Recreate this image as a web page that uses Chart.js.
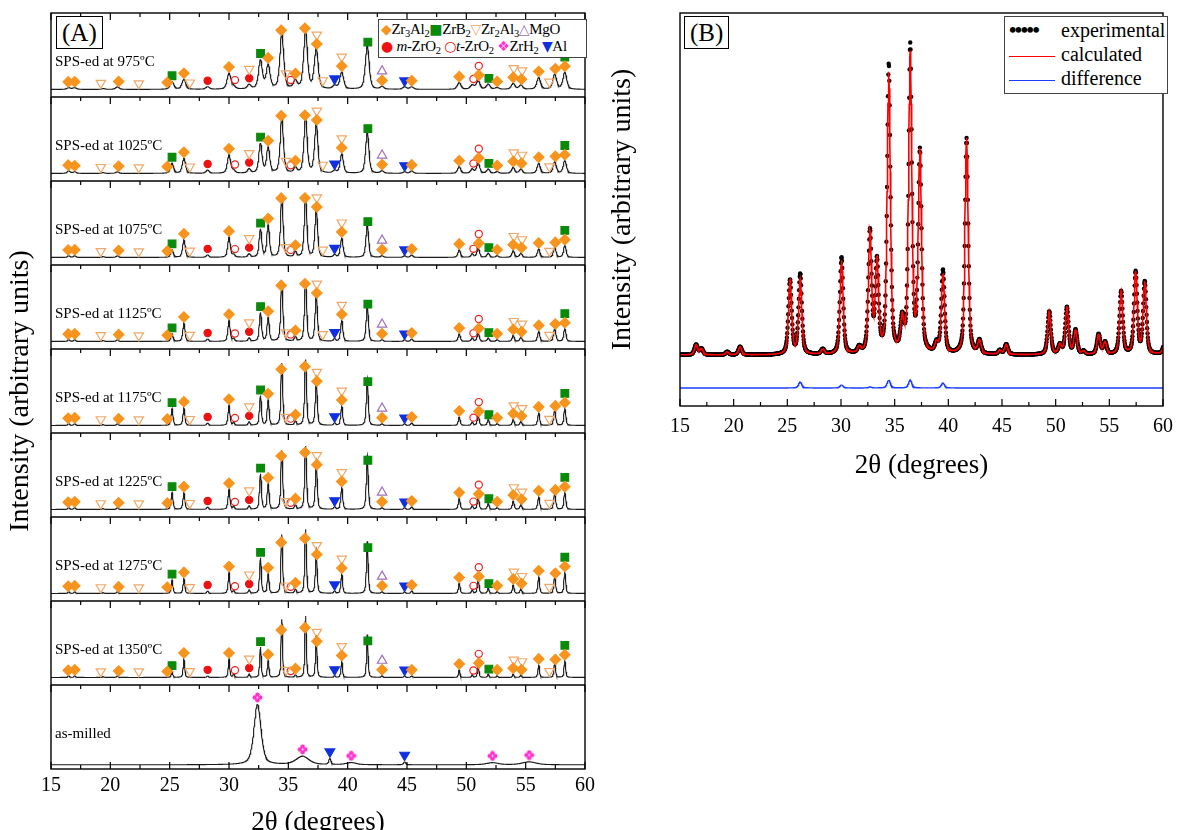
<!DOCTYPE html>
<html>
<head>
<meta charset="utf-8">
<title>XRD patterns</title>
<script src="https://cdn.jsdelivr.net/npm/chart.js@4.4.1/dist/chart.umd.min.js"></script>
<style>
  body { margin: 0; background: #fff; font-family: 'Liberation Serif', 'Times New Roman', serif; }
  #wrap { position: relative; width: 1182px; height: 830px; overflow: hidden; }
  #chartA { position: absolute; left: 0; top: 0; }
  #chartB { position: absolute; left: 600px; top: 0; }
  .tag { position: absolute; border: 1.5px solid #000; background: #fff; font-size: 25px; line-height: 31px; padding: 0 5px; }
  .leg { position: absolute; background: #fff; border: 1px solid #444; color: #000; }
  .leg sub { font-size: 70%; line-height: 0; vertical-align: -3px; }
  #legA { left: 378px; top: 19px; width: 205px; padding: 1px 0 2px 2px; font-size: 15px; line-height: 17px; white-space: nowrap; letter-spacing: -0.3px; }
  #legB { left: 1004px; top: 16px; width: 158px; padding: 1px 0 3px 4px; font-size: 20px; line-height: 24px; white-space: nowrap; }
  .sym { font-family: 'DejaVu Sans', sans-serif; font-size: 14px; }
  .ln { display: inline-block; width: 46px; height: 0; border-top: 1.5px solid; vertical-align: middle; margin-right: 6px; }
  .dots { display: inline-block; width: 46px; margin-right: 6px; font-weight: bold; font-size: 21px; letter-spacing: -1.5px; line-height: 20px; }
</style>
</head>
<body>
<div id="wrap">
  <canvas id="chartA" width="600" height="830"></canvas>
  <canvas id="chartB" width="582" height="480"></canvas>
  <div class="tag" style="left:56px; top:16px;">(A)</div>
  <div class="tag" style="left:684px; top:16px;">(B)</div>
  <div id="legA" class="leg">
    <div><span class="sym" style="color:#f7941d">◆</span>Zr<sub>3</sub>Al<sub>2</sub><span class="sym" style="color:#0a8a0a">■</span>ZrB<sub>2</sub><span class="sym" style="color:#f0a868">▽</span>Zr<sub>2</sub>Al<sub>3</sub><span class="sym" style="color:#a070b8">△</span>MgO</div>
    <div><span class="sym" style="color:#ee1111">●</span>&nbsp;<i>m</i>-ZrO<sub>2</sub> <span class="sym" style="color:#ee1111">○</span><i>t</i>-ZrO<sub>2</sub> <span class="sym" style="color:#ff33cc">❖</span>ZrH<sub>2</sub> <span class="sym" style="color:#1030e0">▼</span>Al</div>
  </div>
  <div id="legB" class="leg">
    <div><span class="dots">•••••</span>experimental</div>
    <div><span class="ln" style="border-color:#ff0000"></span>calculated</div>
    <div><span class="ln" style="border-color:#1a3cff"></span>difference</div>
  </div>
</div>
<script>
// ---- Panel (A): stacked XRD patterns ----
const sampleNames = ['SPS-ed at 975ºC', 'SPS-ed at 1025ºC', 'SPS-ed at 1075ºC', 'SPS-ed at 1125ºC',
                     'SPS-ed at 1175ºC', 'SPS-ed at 1225ºC', 'SPS-ed at 1275ºC', 'SPS-ed at 1350ºC'];
const xTickLabels = [15, 20, 25, 30, 35, 40, 45, 50, 55, 60];

// peak positions (2θ) shared by all SPS-ed samples
const peakPos = [16.5, 17.0, 19.4, 20.6, 25.2, 26.2, 28.2, 30.0, 30.4, 31.7,
                 32.65, 33.3, 34.45, 35.6, 36.45, 37.35, 38.9, 39.5, 41.65, 42.9,
                 44.8, 45.4, 49.4, 50.5, 51.0, 51.85, 52.6, 53.95, 54.6, 56.1,
                 57.45, 58.3];
// peak heights per sample (fraction of one panel)
const h975  = [0.02,0.02,0.01,0.03,0.09,0.12,0.03,0.19,0.03,0.05,0.34,0.28,0.66,0.09,0.68,0.48,0.04,0.2,0.52,0.03,0.03,0.03,0.08,0.05,0.1,0.06,0.02,0.07,0.05,0.14,0.18,0.2];
const h1025 = [0.03,0.02,0.01,0.02,0.12,0.18,0.04,0.22,0.03,0.05,0.35,0.3,0.66,0.06,0.66,0.6,0.03,0.23,0.5,0.03,0.02,0.03,0.08,0.05,0.12,0.05,0.02,0.07,0.05,0.12,0.14,0.15];
const h1075 = [0.02,0.02,0.01,0.02,0.09,0.21,0.03,0.24,0.03,0.04,0.33,0.38,0.71,0.06,0.71,0.59,0.03,0.23,0.4,0.02,0.02,0.03,0.09,0.04,0.11,0.05,0.02,0.08,0.05,0.1,0.12,0.14];
const h1125 = [0.02,0.02,0.01,0.02,0.09,0.22,0.03,0.25,0.03,0.04,0.34,0.28,0.7,0.05,0.72,0.59,0.03,0.25,0.44,0.02,0.02,0.03,0.09,0.04,0.1,0.04,0.02,0.07,0.05,0.12,0.16,0.15];
const h1175 = [0.02,0.02,0.01,0.02,0.2,0.21,0.03,0.24,0.03,0.04,0.35,0.3,0.74,0.05,0.78,0.56,0.03,0.23,0.56,0.02,0.02,0.03,0.1,0.04,0.12,0.07,0.02,0.07,0.05,0.15,0.2,0.2];
const h1225 = [0.02,0.02,0.01,0.02,0.2,0.2,0.03,0.24,0.03,0.04,0.42,0.3,0.7,0.05,0.75,0.57,0.03,0.26,0.64,0.02,0.02,0.03,0.13,0.04,0.14,0.07,0.02,0.1,0.06,0.15,0.2,0.2];
const h1275 = [0.02,0.02,0.01,0.02,0.16,0.18,0.03,0.25,0.03,0.04,0.42,0.23,0.7,0.05,0.76,0.51,0.03,0.23,0.62,0.02,0.02,0.03,0.12,0.04,0.17,0.06,0.02,0.1,0.06,0.2,0.22,0.25];
const h1350 = [0.02,0.02,0.01,0.02,0.07,0.22,0.02,0.22,0.04,0.04,0.36,0.2,0.69,0.03,0.73,0.5,0.02,0.19,0.51,0.02,0.02,0.02,0.09,0.03,0.14,0.04,0.02,0.04,0.03,0.15,0.2,0.2];
const spsHeights = [h975, h1025, h1075, h1125, h1175, h1225, h1275, h1350];
const spsWidths  = [0.38, 0.32, 0.26, 0.22, 0.19, 0.19, 0.17, 0.15];   // FWHM, degrees

// as-milled powder
const millPos    = [32.4, 36.2, 38.5, 40.3, 44.8, 52.2, 55.3];
const millHeight = [0.72, 0.1, 0.07, 0.025, 0.035, 0.025, 0.035];
const millWidth  = [0.7, 1.3, 0.22, 1.0, 0.22, 1.2, 1.4];

const baseLevel = 0.09;

// phase markers: [2θ, phase, stack level]
const spsMarks = [
  [16.45,'Z',0],[17.0,'Z',0],[19.2,'T',0],[20.7,'Z',0],[22.4,'T',0],[24.8,'Z',0],[25.2,'B',0],
  [26.2,'Z',0],[26.7,'T',0],[28.2,'m',0],[30.0,'Z',0],[30.5,'t',0],[31.7,'m',0],[31.7,'T',1],
  [32.66,'B',0],[33.3,'Z',0],[34.4,'Z',0],[34.8,'T',0],[35.2,'t',0],[35.6,'Z',0],[36.4,'Z',0],
  [37.4,'Z',0],[37.4,'T',1],[38.9,'A',0],[39.5,'Z',0],[39.5,'T',1],[41.7,'B',0],[42.9,'Z',0],
  [42.9,'M',1],[44.8,'A',0],[45.4,'Z',0],[49.4,'Z',0],[50.6,'t',0],[51.05,'Z',0],[51.05,'t',1],
  [51.9,'B',0],[52.6,'Z',0],[53.95,'Z',0],[54.0,'T',1],[54.65,'Z',0],[54.7,'T',1],[56.1,'Z',0],
  [57.0,'T',0],[57.5,'Z',0],[58.3,'Z',0],[58.3,'B',1]
];
const earlyMarks = [[37.9,'T',0]];   // only on 975-1125 ºC
const millMarks = [[32.4,'H',0],[36.2,'H',0],[38.5,'A',0],[40.3,'H',0],[44.8,'A',0],[52.2,'H',0],[55.3,'H',0]];

// ---- Panel (B): Rietveld refinement ----
const refPos  = [16.5,17.0,19.4,20.6,25.25,26.2,28.3,30.05,31.7,32.7,33.35,34.45,35.7,36.45,37.35,38.9,
                 39.5,41.7,42.9,44.8,45.4,49.4,50.4,51.05,51.85,52.6,54.0,54.6,56.1,57.45,58.3,60.3];
const refCalc = [1.0,0.6,0.3,0.8,7.4,7.4,0.5,9.4,0.6,12.0,9.0,28.0,3.0,29.8,20.0,0.9,
                 7.8,21.6,1.3,0.4,1.0,4.3,0.9,4.7,2.4,0.3,2.0,1.2,6.3,8.2,7.2,3.6];
const refExp  = [1.0,0.6,0.3,0.8,7.4,8.0,0.5,9.7,0.6,12.1,9.0,28.8,3.0,30.6,20.0,0.9,
                 8.3,21.6,1.3,0.4,1.0,4.3,0.9,4.7,2.4,0.3,2.0,1.2,6.3,8.2,7.2,3.6];
const refWidth = 0.36;
const diffOffset = -3.3;

const serif = "'Liberation Serif', 'Times New Roman', serif";

// pseudo-Voigt peak
function pv(x, c, h, w) {
  const d = (x - c) / (w / 2);
  return h * (0.5 / (1 + d * d) + 0.5 * Math.exp(-Math.LN2 * d * d));
}
function profile(x, pos, hts, wid) {
  let s = 0;
  for (let i = 0; i < pos.length; i++) s += pv(x, pos[i], hts[i], Array.isArray(wid) ? wid[i] : wid);
  return s;
}
function grid(step) {
  const xs = [];
  for (let i = 0; 15 + i * step <= 60.0001; i++) xs.push(+(15 + i * step).toFixed(3));
  return xs;
}

// ZrH2 flower symbol
function flower(color) {
  const c = document.createElement('canvas');
  c.width = 11; c.height = 11;
  const g = c.getContext('2d');
  g.fillStyle = color;
  [[5.5,2.8],[2.8,5.5],[8.2,5.5],[5.5,8.2]].forEach(([cx, cy]) => {
    g.beginPath(); g.arc(cx, cy, 2.3, 0, Math.PI * 2); g.fill();
  });
  g.fillStyle = '#fff';
  g.beginPath(); g.arc(5.5, 5.5, 0.9, 0, Math.PI * 2); g.fill();
  return c;
}

const phaseStyle = {
  Z: { label: 'Zr3Al2', pointStyle: 'rectRot', radius: 5.2, bg: '#f7941d', border: '#f7941d', rot: 0 },
  B: { label: 'ZrB2', pointStyle: 'rect', radius: 5.4, bg: '#0a8a0a', border: '#0a8a0a', rot: 0 },
  T: { label: 'Zr2Al3', pointStyle: 'triangle', radius: 5.4, bg: 'rgba(255,255,255,0)', border: '#f0a868', rot: 180 },
  M: { label: 'MgO', pointStyle: 'triangle', radius: 5.4, bg: 'rgba(255,255,255,0)', border: '#a070b8', rot: 0 },
  m: { label: 'm-ZrO2', pointStyle: 'circle', radius: 3.6, bg: '#ee1111', border: '#ee1111', rot: 0 },
  t: { label: 't-ZrO2', pointStyle: 'circle', radius: 3.6, bg: 'rgba(255,255,255,0)', border: '#ee2222', rot: 0 },
  H: { label: 'ZrH2', pointStyle: flower('#ff33cc'), radius: 5, bg: '#ff33cc', border: '#ff33cc', rot: 0 },
  A: { label: 'Al', pointStyle: 'triangle', radius: 5.6, bg: '#1030e0', border: '#1030e0', rot: 180 }
};

// build panel (A) datasets
const xsA = grid(0.025);
const nPanels = sampleNames.length + 1;
const patternSets = [];
const markPoints = {};
Object.keys(phaseStyle).forEach(k => markPoints[k] = []);

function addMarks(list, offset, curve) {
  list.forEach(([x, ph, stack]) => {
    markPoints[ph].push({ x: x, y: offset + baseLevel + curve(x) + 0.07 + stack * 0.11 });
  });
}

sampleNames.forEach((name, i) => {
  const offset = nPanels - 1 - i;            // 975 on top
  const hts = spsHeights[i], w = spsWidths[i];
  const curve = x => profile(x, peakPos, hts, w);
  patternSets.push({
    label: name,
    data: xsA.map(x => ({ x: x, y: offset + baseLevel + curve(x) })),
    showLine: true, borderColor: '#1a1a1a', borderWidth: 1.1, pointRadius: 0, order: 20
  });
  addMarks(spsMarks, offset, curve);
  if (i < 4) addMarks(earlyMarks, offset, curve);
});
{
  const curve = x => profile(x, millPos, millHeight, millWidth);
  patternSets.push({
    label: 'as-milled',
    data: xsA.map(x => ({ x: x, y: 0.05 + curve(x) })),
    showLine: true, borderColor: '#1a1a1a', borderWidth: 1.1, pointRadius: 0, order: 20
  });
  millMarks.forEach(([x, ph, stack]) => {
    markPoints[ph].push({ x: x, y: 0.05 + curve(x) + 0.08 + stack * 0.11 });
  });
}

const markerSets = Object.keys(phaseStyle).map(k => {
  const s = phaseStyle[k];
  return {
    label: s.label, data: markPoints[k], showLine: false, clip: false,
    pointStyle: s.pointStyle, pointRadius: s.radius, pointRotation: s.rot,
    pointBackgroundColor: s.bg, pointBorderColor: s.border, pointBorderWidth: 1.2, order: 1
  };
});

// frame, panel separators, inward ticks and panel captions
const panelFrame = {
  id: 'panelFrame',
  afterDraw(chart, args, opts) {
    const { ctx, chartArea: a, scales: { x, y } } = chart;
    ctx.save();
    ctx.strokeStyle = '#000';
    ctx.lineWidth = 1.4;
    ctx.strokeRect(a.left, a.top, a.right - a.left, a.bottom - a.top);
    for (let i = 1; i < opts.panels; i++) {
      const py = y.getPixelForValue(y.min + i * (y.max - y.min) / opts.panels);
      ctx.beginPath(); ctx.moveTo(a.left, py); ctx.lineTo(a.right, py); ctx.stroke();
    }
    ctx.lineWidth = 1.2;
    for (let v = 15; v <= 60; v += 2.5) {
      const px = x.getPixelForValue(v);
      const len = v % 5 === 0 ? 7 : 4;
      ctx.beginPath(); ctx.moveTo(px, a.bottom); ctx.lineTo(px, a.bottom - len); ctx.stroke();
      if (opts.topTicks) {
        for (let i = 1; i <= opts.panels; i++) {
          const py = y.getPixelForValue(y.min + i * (y.max - y.min) / opts.panels);
          ctx.beginPath(); ctx.moveTo(px, py); ctx.lineTo(px, py + len); ctx.stroke();
        }
      }
    }
    if (opts.captions) {
      ctx.fillStyle = '#000';
      ctx.font = '15px ' + serif;
      ctx.textBaseline = 'middle';
      opts.captions.forEach((c, i) => {
        const offset = opts.panels - 1 - i;
        ctx.fillText(c, a.left + 4, y.getPixelForValue(offset + 0.42));
      });
    }
    ctx.restore();
  }
};

new Chart(document.getElementById('chartA'), {
  type: 'scatter',
  data: { datasets: [...markerSets, ...patternSets] },
  options: {
    responsive: false,
    animation: false,
    events: [],
    layout: { padding: { top: 13, right: 10, left: 0, bottom: 0 } },
    plugins: {
      legend: { display: false },
      tooltip: { enabled: false },
      panelFrame: { panels: nPanels, topTicks: true, captions: [...sampleNames, 'as-milled'] }
    },
    scales: {
      x: {
        type: 'linear', min: 15, max: 60,
        afterBuildTicks: s => { s.ticks = xTickLabels.map(v => ({ value: v })); },
        ticks: { color: '#000', font: { family: serif, size: 20 }, padding: 5, maxRotation: 0, autoSkip: false },
        grid: { display: false, drawTicks: false },
        border: { display: false },
        title: { display: true, text: '2θ (degrees)', color: '#000', font: { family: serif, size: 27 }, padding: { top: 0, bottom: -9 } },
        afterFit: s => { s.height = 61; }
      },
      y: {
        type: 'linear', min: 0, max: nPanels,
        ticks: { display: false },
        grid: { display: false, drawTicks: false },
        border: { display: false },
        title: { display: true, text: 'Intensity (arbitrary units)', color: '#000', font: { family: serif, size: 28 }, padding: { top: 4, bottom: 0 } },
        afterFit: s => { s.width = 51; }
      }
    }
  },
  plugins: [panelFrame]
});

// build panel (B) datasets
const xsB = grid(0.03);
const expPts  = xsB.map(x => ({ x: x, y: profile(x, refPos, refExp, refWidth) }));
const calcPts = xsB.map(x => ({ x: x, y: profile(x, refPos, refCalc, refWidth) }));
const diffPts = xsB.map((x, i) => ({ x: x, y: diffOffset + expPts[i].y - calcPts[i].y }));

new Chart(document.getElementById('chartB'), {
  type: 'scatter',
  data: {
    datasets: [
      { label: 'experimental', data: expPts, showLine: false, pointRadius: 2.2, pointBackgroundColor: '#000', pointBorderWidth: 0, order: 3 },
      { label: 'calculated', data: calcPts, showLine: true, borderColor: '#ff0000', borderWidth: 1.6, pointRadius: 0, order: 2 },
      { label: 'difference', data: diffPts, showLine: true, borderColor: '#1a3cff', borderWidth: 1.4, pointRadius: 0, order: 1 }
    ]
  },
  options: {
    responsive: false,
    animation: false,
    events: [],
    layout: { padding: { top: 13, right: 14, left: 0, bottom: 0 } },
    plugins: {
      legend: { display: false },
      tooltip: { enabled: false },
      panelFrame: { panels: 1, topTicks: false }
    },
    scales: {
      x: {
        type: 'linear', min: 15, max: 60,
        afterBuildTicks: s => { s.ticks = xTickLabels.map(v => ({ value: v })); },
        ticks: { color: '#000', font: { family: serif, size: 20 }, padding: 9, maxRotation: 0, autoSkip: false },
        grid: { display: false, drawTicks: false },
        border: { display: false },
        title: { display: true, text: '2θ (degrees)', color: '#000', font: { family: serif, size: 27 }, padding: { top: 0, bottom: -2 } },
        afterFit: s => { s.height = 74; }
      },
      y: {
        type: 'linear', min: -5.1, max: 34.2,
        ticks: { display: false },
        grid: { display: false, drawTicks: false },
        border: { display: false },
        title: { display: true, text: 'Intensity (arbitrary units)', color: '#000', font: { family: serif, size: 28 }, padding: { top: 6, bottom: 0 } },
        afterFit: s => { s.width = 80; }
      }
    }
  },
  plugins: [panelFrame]
});
</script>
</body>
</html>
